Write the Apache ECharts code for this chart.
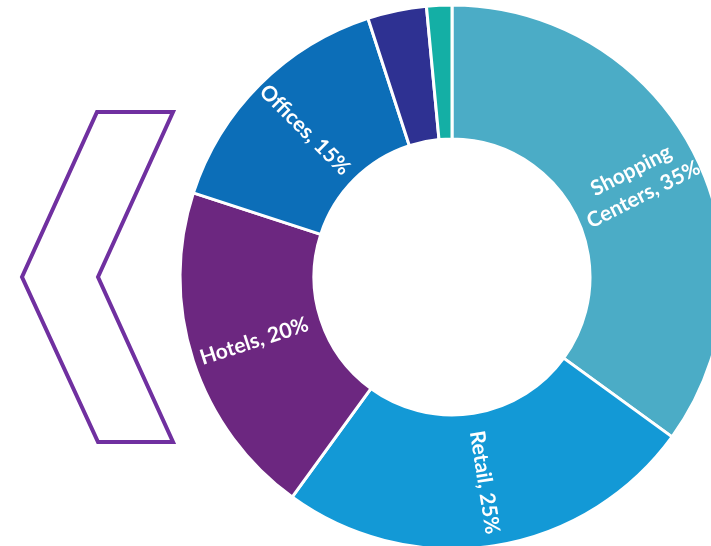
<!DOCTYPE html>
<html><head><meta charset="utf-8">
<script src="https://cdn.jsdelivr.net/npm/echarts@6/dist/echarts.min.js"></script>
<style>html,body{margin:0;padding:0;background:#fff}#c{width:711px;height:546px}</style>
</head><body><div id="c"></div>
<script>
const categories = ['Shopping\nCenters', 'Retail', 'Hotels', 'Offices', 'Other A', 'Other B'];
const values = [35, 25, 20, 15, 3.5, 1.5];
const showLabel = [true, true, true, true, false, false];
const colors = ['#4BACC6', '#1399D6', '#6C2780', '#0C6EB8', '#2E3192', '#14AFA5'];

const chart = echarts.init(document.getElementById('c'), null, {renderer: 'canvas'});
chart.setOption({
  animation: false,
  series: [{
    type: 'pie',
    center: [452, 277],
    radius: [138, 272],
    startAngle: 90,
    clockwise: true,
    data: categories.map((c, i) => ({
      name: c, value: values[i],
      itemStyle: {color: colors[i]},
      label: {show: showLabel[i]}
    })),
    itemStyle: {borderColor: '#fff', borderWidth: 3},
    label: {
      position: 'inside',
      rotate: 'radial',
      color: '#fff',
      fontFamily: 'Lato',
      fontWeight: 'bold',
      fontSize: 21,
      lineHeight: 27,
      formatter: p => p.name + ', ' + p.value + '%'
    },
    labelLine: {show: false},
    emphasis: {disabled: true}
  }],
  graphic: [{
    type: 'polygon',
    shape: {points: [[97, 112], [173, 112], [98, 277], [173, 442], [98, 442], [22, 277]]},
    style: {fill: 'none', stroke: '#7030A0', lineWidth: 4, lineJoin: 'miter'}
  }]
});
</script></body></html>
